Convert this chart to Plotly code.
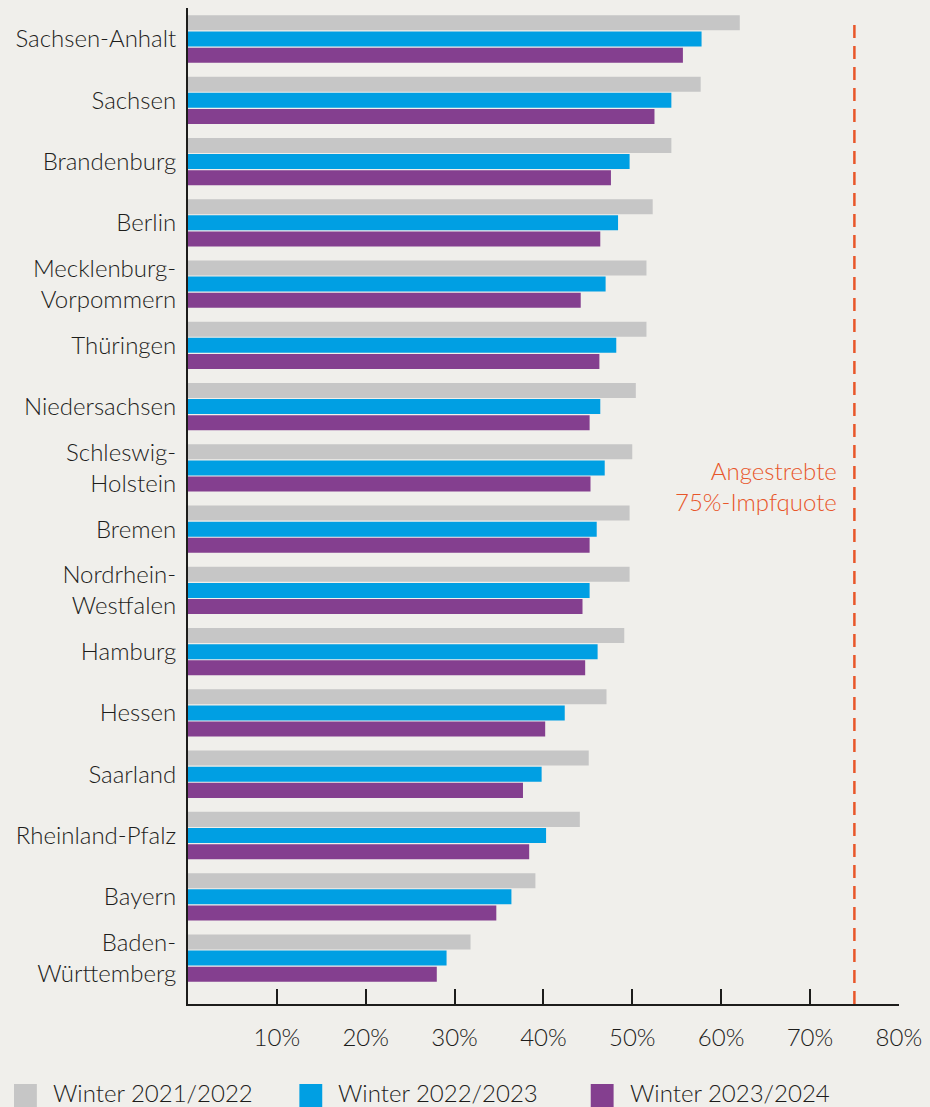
import plotly.graph_objects as go

states = [
    "Sachsen-Anhalt", "Sachsen", "Brandenburg", "Berlin", "Mecklenburg-<br>Vorpommern",
    "Thüringen", "Niedersachsen", "Schleswig-<br>Holstein", "Bremen", "Nordrhein-<br>Westfalen",
    "Hamburg", "Hessen", "Saarland", "Rheinland-Pfalz", "Bayern", "Baden-<br>Württemberg",
]
winter_2122 = [62.1, 57.7, 54.4, 52.3, 51.6, 51.6, 50.4, 50.0, 49.7, 49.7, 49.1, 47.1, 45.1, 44.1, 39.1, 31.8]
winter_2223 = [57.8, 54.4, 49.7, 48.4, 47.0, 48.2, 46.4, 46.9, 46.0, 45.2, 46.1, 42.4, 39.8, 40.3, 36.4, 29.1]
winter_2324 = [55.7, 52.5, 47.6, 46.4, 44.2, 46.3, 45.2, 45.3, 45.2, 44.4, 44.7, 40.2, 37.7, 38.4, 34.7, 28.0]
series_names = ["Winter 2021/2022", "Winter 2022/2023", "Winter 2023/2024"]
tick_vals = [10, 20, 30, 40, 50, 60, 70, 80]
tick_text = ["10%", "20%", "30%", "40%", "50%", "60%", "70%", "80%"]
target = 75

colors = ["#c6c6c6", "#009fe3", "#843f8f"]
bg = "#f0efeb"
txt = "#1d1d1b"
orange = "#e8562a"
FONT = "Lato"
FS = 24
W = 300
L, R = 188, 27
PW = 930 - L - R

fig = go.Figure()
for name, vals, col in zip(series_names, [winter_2122, winter_2223, winter_2324], colors):
    fig.add_trace(go.Bar(y=states, x=vals, name=name, orientation="h",
                         marker=dict(color=col, line=dict(width=0)),
                         hovertemplate="%{y}: %{x:.1f}%<extra>" + name + "</extra>"))

fig.add_shape(type="line", xref="x", yref="paper", x0=target, x1=target, y0=0, y1=0.99,
              line=dict(color=orange, width=2.5, dash="13px,8px"))
fig.add_annotation(xref="x", yref="paper", x=73.3, y=0.52, xanchor="right", yanchor="middle",
                   text="Angestrebte<br>75%-Impfquote", showarrow=False, align="right",
                   font=dict(family=FONT, size=FS, color=orange, weight=W))

# legend drawn manually (large square swatches)
leg_x = [13, 300, 593]
for lx, name, col in zip(leg_x, series_names, colors):
    x0 = (lx - L) / PW
    x1 = (lx + 23 - L) / PW
    fig.add_shape(type="rect", xref="paper", yref="paper", x0=x0, x1=x1,
                  y0=(1004 - 1110) / 996, y1=(1004 - 1084) / 996,
                  fillcolor=col, line=dict(width=0))
    fig.add_annotation(xref="paper", yref="paper", x=(lx + 37 - L) / PW, y=(1004 - 1092) / 996,
                       xanchor="left", yanchor="middle", text=name, showarrow=False,
                       font=dict(family=FONT, size=FS, color=txt, weight=W))

fig.update_layout(
    width=930, height=1107,
    margin=dict(l=L, r=R, t=8, b=103),
    paper_bgcolor=bg, plot_bgcolor=bg,
    barmode="group", bargap=0.21, bargroupgap=0.07,
    showlegend=False,
    font=dict(family=FONT, size=FS, color=txt, weight=W),
    xaxis=dict(range=[0, 80.02], tickvals=tick_vals, ticktext=tick_text, ticks="inside",
               ticklen=15, tickwidth=1.5, tickcolor=txt, showgrid=False, zeroline=False,
               showline=True, linecolor=txt, linewidth=2, ticklabelstandoff=11,
               ticklabeloverflow="allow",
               tickfont=dict(family=FONT, size=FS, color=txt, weight=W)),
    yaxis=dict(type="category", categoryorder="array", categoryarray=states,
               range=[15.75, -0.506], showgrid=False, zeroline=False, showline=True,
               linecolor=txt, linewidth=2, ticks="", ticklabelstandoff=5,
               tickfont=dict(family=FONT, size=FS, color=txt, weight=W)),
)

fig.write_html(
    "out.html", config={"displayModeBar": False},
    post_script=("document.documentElement.style.overflow='hidden';"
                 "document.body.style.margin='0';document.body.style.overflow='hidden';"
                 "var d=document.getElementById('{plot_id}');d.style.overflow='hidden';"
                 "d.style.width='930px';d.style.height='1107px';"),
)
